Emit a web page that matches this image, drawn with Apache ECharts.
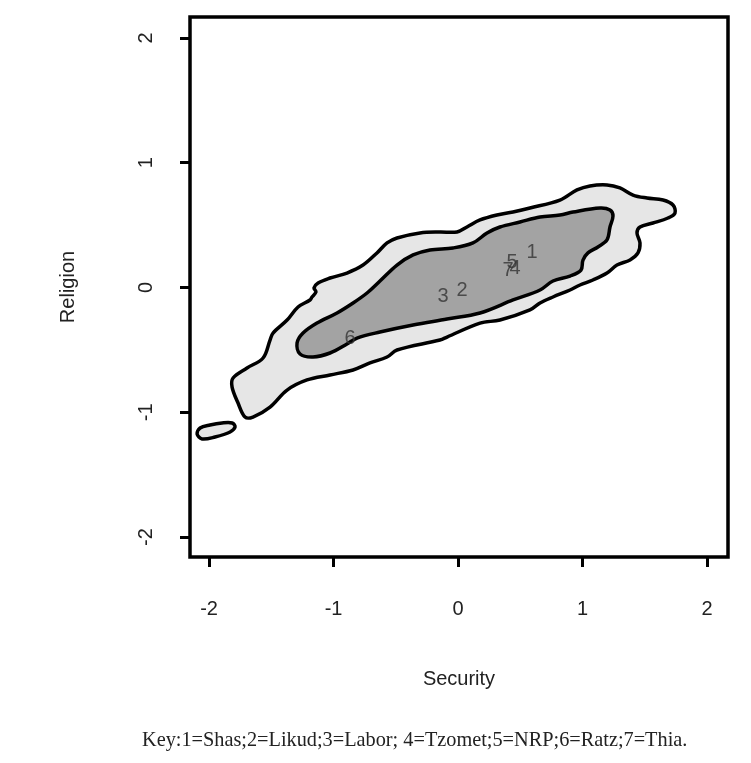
<!DOCTYPE html>
<html>
<head>
<meta charset="utf-8">
<script src="https://cdn.jsdelivr.net/npm/echarts@6/dist/echarts.min.js"></script>
<style>html,body{margin:0;padding:0;background:#fff}#chart{width:751px;height:763px}</style>
</head>
<body>
<div id="chart"></div>
<script>
// Axis ticks
const xTicks = [-2, -1, 0, 1, 2];
const yTicks = [-2, -1, 0, 1, 2];

// Outer (light) density contour, Security x Religion
const outerContour = [
  [-1.815,-0.798],[-1.807,-0.725],[-1.695,-0.645],[-1.566,-0.565],[-1.510,-0.421],[-1.486,-0.365],
  [-1.373,-0.261],[-1.285,-0.156],[-1.189,-0.100],[-1.173,-0.076],[-1.141,-0.036],[-1.157,-0.004],
  [-1.124,0.036],[-1.028,0.076],[-0.892,0.116],[-0.763,0.180],[-0.651,0.277],[-0.570,0.357],
  [-0.490,0.397],[-0.305,0.437],[-0.145,0.445],[-0.008,0.445],[0.072,0.485],[0.177,0.541],
  [0.313,0.581],[0.442,0.605],[0.578,0.637],[0.819,0.701],[0.956,0.782],[1.060,0.814],
  [1.197,0.822],[1.301,0.798],[1.406,0.741],[1.518,0.717],[1.647,0.701],[1.727,0.661],
  [1.743,0.597],[1.687,0.557],[1.566,0.517],[1.462,0.485],[1.438,0.437],[1.462,0.357],
  [1.446,0.277],[1.382,0.221],[1.277,0.180],[1.197,0.116],[1.084,0.060],[0.980,0.020],
  [0.900,-0.020],[0.763,-0.076],[0.659,-0.124],[0.578,-0.180],[0.337,-0.261],[0.177,-0.285],
  [-0.088,-0.397],[-0.145,-0.421],[-0.490,-0.501],[-0.570,-0.557],[-0.707,-0.605],[-0.843,-0.661],
  [-1.028,-0.701],[-1.213,-0.741],[-1.373,-0.822],[-1.510,-0.958],[-1.647,-1.038],[-1.711,-1.038],
  [-1.767,-0.926]
];

// Inner (dark) density contour
const innerContour = [
  [0.819,0.581],[0.924,0.605],[1.141,0.637],[1.221,0.621],[1.245,0.573],[1.221,0.485],
  [1.197,0.381],[1.124,0.325],[1.044,0.277],[1.004,0.220],[0.988,0.140],[0.900,0.092],
  [0.763,0.052],[0.659,-0.020],[0.442,-0.100],[0.177,-0.204],[-0.088,-0.253],[-0.361,-0.301],
  [-0.627,-0.357],[-0.811,-0.405],[-0.892,-0.453],[-1.028,-0.525],[-1.165,-0.557],[-1.269,-0.533],
  [-1.293,-0.445],[-1.245,-0.365],[-1.133,-0.285],[-0.972,-0.204],[-0.843,-0.124],[-0.731,-0.044],
  [-0.627,0.052],[-0.490,0.180],[-0.361,0.261],[-0.225,0.301],[-0.040,0.317],[0.120,0.357],
  [0.233,0.437],[0.337,0.485],[0.498,0.525],[0.659,0.565]
];

// Small isolated contour at lower left
const tailContour = [
  [-2.096,-1.174],[-2.072,-1.126],[-1.992,-1.102],[-1.896,-1.086],[-1.815,-1.086],
  [-1.791,-1.118],[-1.831,-1.158],[-1.952,-1.198],[-2.056,-1.214]
];

// Party positions
const partyNames = ['1', '2', '3', '4', '5', '6', '7'];
const partySecurity = [0.594, 0.032, -0.120, 0.458, 0.434, -0.867, 0.402];
const partyReligion = [0.277, -0.020, -0.076, 0.156, 0.204, -0.405, 0.140];

const keyText = 'Key:1=Shas;2=Likud;3=Labor; 4=Tzomet;5=NRP;6=Ratz;7=Thia.';

function polygonSeries(points, fill, z) {
  return {
    type: 'custom',
    coordinateSystem: 'cartesian2d',
    data: [points[0]],
    z: z,
    silent: true,
    renderItem: function (params, api) {
      const pts = points.map(p => api.coord(p));
      return {
        type: 'polygon',
        shape: { points: pts, smooth: 0.35 },
        style: { fill: fill, stroke: '#000', lineWidth: 3.5 }
      };
    }
  };
}

const chart = echarts.init(document.getElementById('chart'), null, { renderer: 'canvas' });
const font = '"Liberation Sans", Arial, sans-serif';
chart.setOption({
  animation: false,
  backgroundColor: '#fff',
  grid: {
    left: 190, right: 23, top: 17, bottom: 206,
    show: true, borderColor: '#000', borderWidth: 3.5, backgroundColor: '#fff'
  },
  xAxis: {
    type: 'value', min: -2.153, max: 2.169,
    name: 'Security', nameLocation: 'middle', nameGap: 112,
    nameTextStyle: { fontFamily: font, fontSize: 20, color: '#222' },
    axisLine: { show: false, onZero: false },
    splitLine: { show: false },
    axisTick: { show: true, customValues: xTicks, length: 10, inside: false, lineStyle: { color: '#000', width: 3 } },
    axisLabel: { customValues: xTicks, margin: 42, fontFamily: font, fontSize: 20, color: '#222' }
  },
  yAxis: {
    type: 'value', min: -2.16, max: 2.168,
    name: 'Religion', nameLocation: 'middle', nameGap: 112, nameRotate: 90,
    nameTextStyle: { fontFamily: font, fontSize: 20, color: '#222' },
    axisLine: { show: false, onZero: false },
    splitLine: { show: false },
    axisTick: { show: true, customValues: yTicks, length: 10, inside: false, lineStyle: { color: '#000', width: 3 } },
    axisLabel: { customValues: yTicks, margin: 34, rotate: 90, fontFamily: font, fontSize: 20, color: '#222' }
  },
  series: [
    polygonSeries(outerContour, '#e6e6e6', 2),
    polygonSeries(innerContour, '#a3a3a3', 3),
    polygonSeries(tailContour, '#e6e6e6', 3),
    {
      type: 'scatter',
      z: 5,
      symbolSize: 0,
      silent: true,
      data: partyNames.map((n, i) => [partySecurity[i], partyReligion[i], n]),
      label: {
        show: true, position: 'inside',
        formatter: p => p.data[2],
        fontFamily: font, fontSize: 20, color: '#333'
      }
    }
  ],
  graphic: [{
    type: 'text', left: 142, top: 731,
    style: { text: keyText, font: '20.3px "Liberation Serif", "Times New Roman", serif', fill: '#222' }
  }]
});
</script>
</body>
</html>
